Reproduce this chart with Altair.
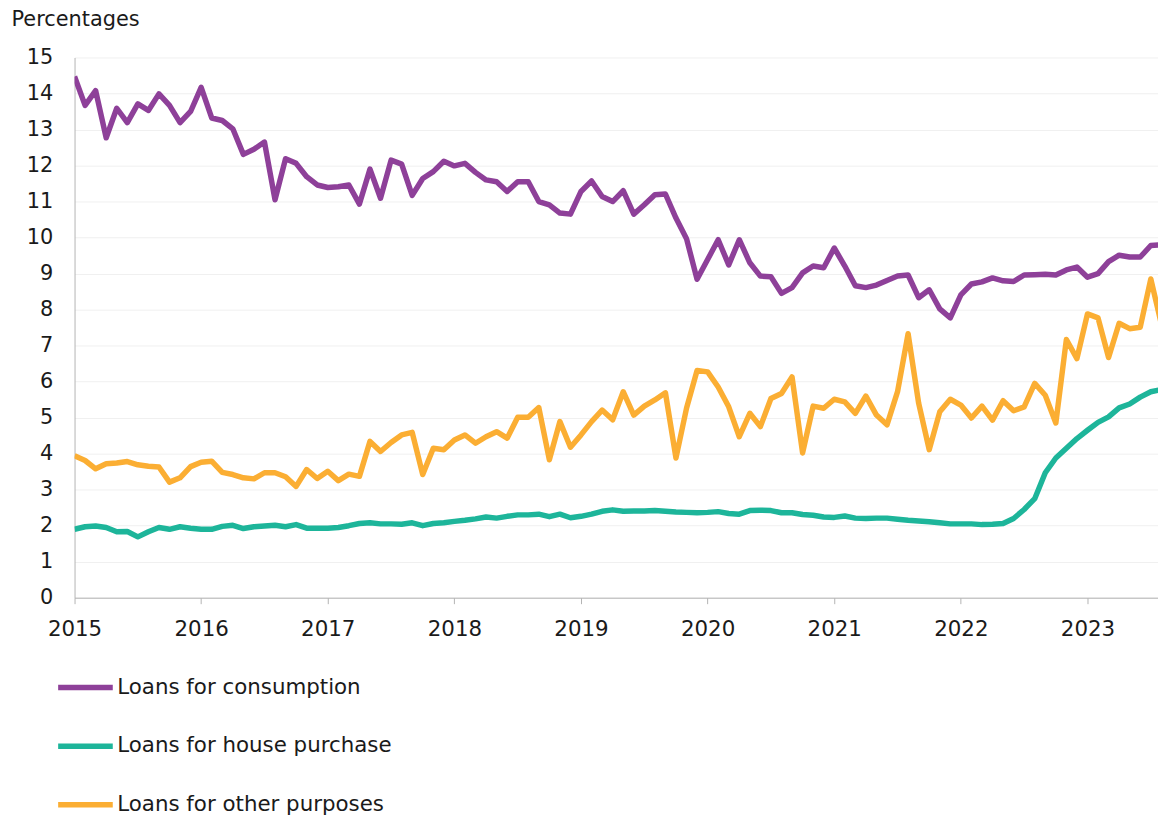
import altair as alt
import pandas as pd

# Monthly values, Jan 2015 onwards
consumption = [
    14.47, 13.67, 14.08, 12.77, 13.59, 13.19, 13.71, 13.53, 13.99, 13.67, 13.19, 13.50,
    14.17, 13.32, 13.25, 13.02, 12.31, 12.45, 12.65, 11.05, 12.19, 12.06, 11.69, 11.46,
    11.39, 11.41, 11.46, 10.93, 11.90, 11.09, 12.15, 12.04, 11.17, 11.64, 11.83, 12.12,
    11.99, 12.06, 11.81, 11.60, 11.55, 11.28, 11.55, 11.55, 11.00, 10.91, 10.68, 10.65,
    11.28, 11.57, 11.14, 11.00, 11.30, 10.65, 10.91, 11.19, 11.21, 10.54, 9.97, 8.84,
    9.39, 9.94, 9.24, 9.94, 9.30, 8.93, 8.91, 8.45, 8.61, 9.02, 9.21, 9.16,
    9.71, 9.21, 8.66, 8.61, 8.68, 8.81, 8.93, 8.96, 8.33, 8.55, 8.02, 7.77,
    8.41, 8.71, 8.77, 8.88, 8.80, 8.78, 8.96, 8.97, 8.98, 8.96, 9.10, 9.18,
    8.90, 9.00, 9.33, 9.51, 9.46, 9.46, 9.78, 9.80,
]
house = [
    1.90, 1.97, 1.99, 1.95, 1.83, 1.84, 1.69, 1.83, 1.95, 1.90, 1.97, 1.93,
    1.90, 1.90, 1.98, 2.01, 1.92, 1.97, 1.99, 2.01, 1.97, 2.03, 1.93, 1.93,
    1.93, 1.95, 2.00, 2.06, 2.08, 2.05, 2.05, 2.04, 2.08, 2.00, 2.06, 2.08,
    2.12, 2.15, 2.19, 2.24, 2.21, 2.26, 2.30, 2.30, 2.32, 2.25, 2.32, 2.22,
    2.26, 2.32, 2.40, 2.44, 2.40, 2.41, 2.41, 2.42, 2.40, 2.38, 2.37, 2.36,
    2.37, 2.39, 2.34, 2.32, 2.42, 2.43, 2.42, 2.36, 2.36, 2.31, 2.29, 2.24,
    2.23, 2.27, 2.21, 2.20, 2.21, 2.21, 2.18, 2.15, 2.13, 2.11, 2.08, 2.05,
    2.05, 2.05, 2.03, 2.04, 2.06, 2.20, 2.45, 2.75, 3.47, 3.88, 4.15, 4.42,
    4.65, 4.87, 5.02, 5.27, 5.38, 5.57, 5.72, 5.78,
]
other = [
    3.94, 3.81, 3.58, 3.72, 3.74, 3.78, 3.69, 3.65, 3.63, 3.21, 3.33, 3.64,
    3.76, 3.79, 3.48, 3.42, 3.33, 3.30, 3.47, 3.47, 3.36, 3.09, 3.56, 3.31,
    3.51, 3.25, 3.43, 3.37, 4.34, 4.06, 4.31, 4.52, 4.59, 3.42, 4.15, 4.11,
    4.38, 4.52, 4.29, 4.47, 4.61, 4.43, 5.01, 5.01, 5.28, 3.83, 4.89, 4.18,
    4.52, 4.89, 5.21, 4.94, 5.72, 5.07, 5.32, 5.49, 5.69, 3.88, 5.26, 6.31,
    6.27, 5.85, 5.30, 4.47, 5.12, 4.75, 5.53, 5.67, 6.13, 4.02, 5.32, 5.26,
    5.51, 5.44, 5.12, 5.60, 5.07, 4.80, 5.72, 7.33, 5.40, 4.11, 5.16, 5.51,
    5.35, 4.99, 5.32, 4.93, 5.47, 5.19, 5.30, 5.95, 5.62, 4.85, 7.17, 6.64,
    7.88, 7.77, 6.67, 7.62, 7.47, 7.51, 8.85, 7.60,
]

series_names = ["Loans for consumption", "Loans for house purchase", "Loans for other purposes"]
colors = ["#8e4099", "#1db59a", "#fbae33"]
start_year = 2015
year_ticks = list(range(2015, 2024))
y_ticks = list(range(0, 16))

rows = []
for name, vals in zip(series_names, [consumption, house, other]):
    for i, v in enumerate(vals):
        rows.append({"t": start_year + i / 12, "value": v, "series": name})
df = pd.DataFrame(rows)

FONT = "DejaVu Sans"
TXT = "#1a1a1a"
FS = 21
FS2 = 21.5

chart = alt.Chart(df).mark_line(strokeWidth=5.5, strokeJoin="round", clip=True).encode(
    x=alt.X(
        "t:Q",
        scale=alt.Scale(domain=[2015, 2023.557], nice=False, zero=False),
        axis=alt.Axis(
            values=year_ticks, format="d", title=None, grid=False,
            ticks=True, tickSize=6, tickColor="#b3b3b3", domainColor="#b3b3b3",
            labelFontSize=FS2, labelPadding=15, labelFlush=False, labelColor=TXT,
        ),
    ),
    y=alt.Y(
        "value:Q",
        scale=alt.Scale(domain=[0, 15], nice=False),
        axis=alt.Axis(
            values=y_ticks, title="Percentages", titleAngle=0, titleX=-64, titleY=-38,
            titleAlign="left", titleBaseline="middle", titleFontSize=FS,
            titleFontWeight="normal", titleColor=TXT,
            ticks=False, tickSize=0, labelPadding=22, labelFontSize=FS, labelColor=TXT,
            grid=True, gridColor="#f0f0f0", domainColor="#b3b3b3",
        ),
    ),
    color=alt.Color(
        "series:N",
        scale=alt.Scale(domain=series_names, range=colors),
        legend=alt.Legend(
            title=None, orient="none", legendX=-19.5, legendY=623.5, direction="vertical",
            symbolType="stroke", symbolSize=3025, symbolStrokeWidth=5.5,
            clipHeight=22, rowPadding=37, labelFontSize=FS2, labelOffset=1.5,
            labelLimit=0, padding=0, labelColor=TXT,
        ),
    ),
).properties(
    width=1091, height=544,
    autosize=alt.AutoSizeParams(type="none"),
    padding={"left": 67, "top": 47, "right": 0, "bottom": 219},
).configure_view(stroke=None).configure_axis(
    labelFont=FONT, titleFont=FONT
).configure_legend(labelFont=FONT)

chart.save("out.html", embed_options={"renderer": "svg", "actions": False})
